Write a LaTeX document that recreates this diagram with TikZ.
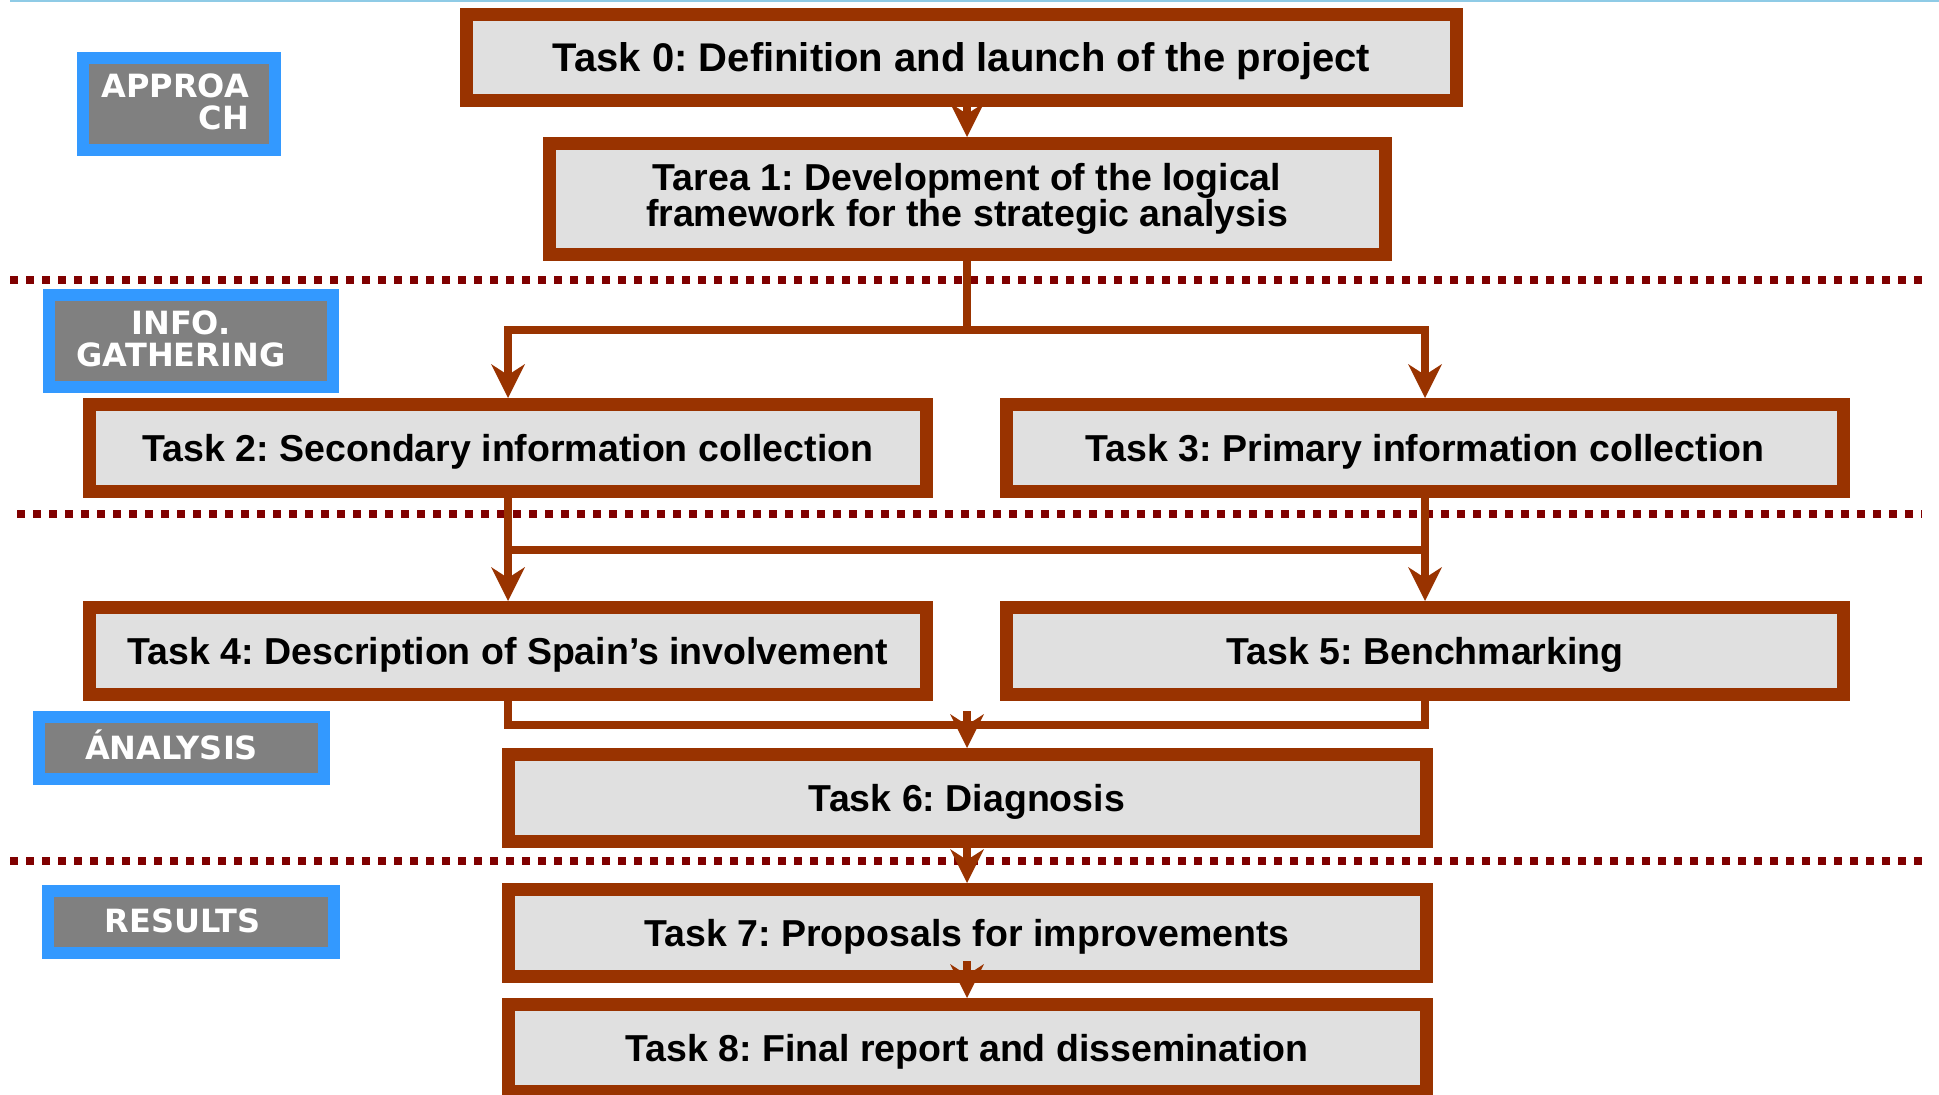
\documentclass[tikz,border=0pt]{standalone}
\usepackage{fontspec}
\setmainfont{Liberation Sans}
\newfontfamily\labfont{DejaVu Sans}
\usetikzlibrary{arrows.meta}
\definecolor{boxbrown}{HTML}{993300}
\definecolor{boxfill}{HTML}{E0E0E0}
\definecolor{dotred}{HTML}{800000}
\definecolor{labblue}{HTML}{3399FF}
\definecolor{labgray}{HTML}{808080}
\definecolor{topblue}{HTML}{8FCBE6}
\frenchspacing
\begin{document}
\begin{tikzpicture}[x=1pt,y=-1pt,
  task/.style={draw=boxbrown, fill=boxfill, line width=13pt, inner sep=0pt, outer sep=6.5pt,
    font=\bfseries\fontsize{37.5}{35}\selectfont, text height=26.8pt, text depth=0pt,
    minimum height=87pt},
  conn/.style={draw=boxbrown, line width=7.5pt},
  arr/.style={conn, -{Stealth[length=34pt,width=34pt,inset=11pt,line width=0pt]}},
  dotline/.style={draw=dotred, line width=8pt, dash pattern=on 8pt off 8pt},
  labbox/.style={draw=labblue, fill=labgray, line width=12pt, inner sep=0pt},
  labtext/.style={text=white, font=\labfont\bfseries\fontsize{32}{31.5}\selectfont, inner sep=0pt}
]
\useasboundingbox (0,0) rectangle (1939,1095);
\fill[white] (0,0) rectangle (1939,1095);
\draw[topblue, line width=2pt] (10,1) -- (1939,1);

% separators
\draw[dotline] (10,280) -- (1929,280);
\draw[dotline] (17,514) -- (1922,514);
\draw[dotline] (10,861) -- (1929,861);

% phase labels
\node[labbox, minimum width=192pt, minimum height=92pt] (Lapp) at (179,104) {};
\node[labtext, align=right, anchor=east] (LappT) at (249,102) {APPROA\\CH};
\node[labbox, minimum width=284pt, minimum height=92pt] (Linfo) at (191,341) {};
\node[labtext, align=center] (LinfoT) at (181,339) {INFO.\\GATHERING};
\node[labbox, minimum width=285pt, minimum height=62pt] (Lana) at (181.5,748) {};
\node[labtext, anchor=base] (LanaT) at (171.5,759) {ÁNALYSIS};
\node[labbox, minimum width=286pt, minimum height=62pt] (Lres) at (191,922) {};
\node[labtext, anchor=base] (LresT) at (182.5,932) {RESULTS};

% tasks
\node[task, minimum width=990pt, minimum height=86pt, font=\bfseries\fontsize{40}{38}\selectfont, text height=28.6pt] (T0) at (961.5,57.5) {Task 0: Definition and launch of the project};
\node[task, minimum width=836pt, minimum height=111pt, align=center, text height=, text depth=] (T1) at (967,199) {Tarea 1: Development of the logical\\framework for the strategic analysis};
\node[task, minimum width=837pt] (T2) at (508,448) {Task 2: Secondary information collection};
\node[task, minimum width=837pt] (T3) at (1425,448) {Task 3: Primary information collection};
\node[task, minimum width=837pt] (T4) at (508,651) {Task 4: Description of Spain’s involvement};
\node[task, minimum width=837pt] (T5) at (1425,651) {Task 5: Benchmarking};
\node[task, minimum width=918pt] (T6) at (967,798) {Task 6: Diagnosis};
\node[task, minimum width=918pt] (T7) at (967,933) {Task 7: Proposals for improvements};
\node[task, minimum width=918pt] (T8) at (967,1048) {Task 8: Final report and dissemination};

% junction points
\coordinate (s1) at (967,330);
\coordinate (ml) at (508,550);
\coordinate (mr) at (1425,550);
\coordinate (nl) at (508,725);
\coordinate (nr) at (1425,725);
\coordinate (n1) at (967,711);
\coordinate (c78) at (967,961);

% connectors
\draw[arr] (T0.south -| T1.north) -- (T1.north);
\draw[conn] (T1.south) -- (s1);
\draw[arr] (s1) -| (T2.north);
\draw[arr] (s1) -| (T3.north);
\draw[conn] (T2.south) -- (ml) -- (mr) -- (T3.south);
\draw[arr] (ml) -- (T4.north);
\draw[arr] (mr) -- (T5.north);
\draw[conn] (T4.south) -- (nl) -- (nr) -- (T5.south);
\draw[arr] (n1) -- (T6.north);
\draw[arr] (T6.south) -- (T7.north);
\draw[arr] (c78) -- (T8.north);
\end{tikzpicture}
\end{document}
